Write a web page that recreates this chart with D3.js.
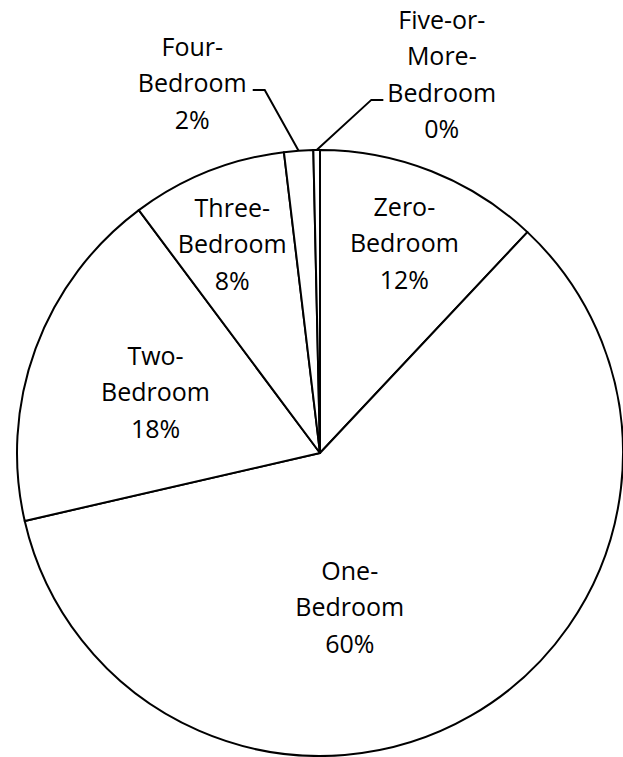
<!DOCTYPE html>
<html>
<head>
<meta charset="utf-8">
<script src="https://cdn.jsdelivr.net/npm/d3@7"></script>
<style>
  body { margin: 0; background: #fff; }
  text { font-family: "Open Sans", sans-serif; font-size: 25px; fill: #000; }
</style>
</head>
<body>
<div id="chart"></div>
<script>
// share of units by bedroom count
var categories = ["Zero-Bedroom", "One-Bedroom", "Two-Bedroom", "Three-Bedroom", "Four-Bedroom", "Five-or-More-Bedroom"];
var shares = [12.0, 59.4, 18.4, 8.3, 1.55, 0.35];
var pctLabels = ["12%", "60%", "18%", "8%", "2%", "0%"];

var svgWidth = 623;
var svgHeight = 757;
var cx = 320, cy = 453, radius = 303;

// where each label sits: angle (deg, clockwise from top) and distance as fraction of radius
var labelPlace = [
    [21.8, 0.75],
    [169, 0.515],
    [290.6, 0.58],
    [337.3, 0.75],
    [341, 1.295],
    [17.8, 1.315]
];
var outside = [false, false, false, false, true, true];

var svg = d3.select("#chart")
    .append("svg")
        .attr("width", svgWidth)
        .attr("height", svgHeight);

var g = svg.append("g")
    .attr("transform", `translate(${cx}, ${cy})`);

var pie = d3.pie().sort(null).value(function (d) { return d; });
var arcs = pie(shares);

var arc = d3.arc().innerRadius(0).outerRadius(radius);

g.selectAll("path.slice")
    .data(arcs)
    .enter()
    .append("path")
        .attr("class", "slice")
        .attr("d", arc)
        .attr("fill", "#fff")
        .attr("stroke", "#000")
        .attr("stroke-width", 2)
        .attr("stroke-linejoin", "round");

function wrap(name) {
    var parts = name.match(/[^-]+-?/g);
    var lines = [];
    parts.forEach(function (p) {
        if (lines.length && p.length <= 3) lines[lines.length - 1] += p;
        else lines.push(p);
    });
    return lines;
}

var lineH = 36.5;

arcs.forEach(function (a, i) {
    var ang = labelPlace[i][0] * Math.PI / 180;
    var dist = labelPlace[i][1] * radius;
    var x = dist * Math.sin(ang);
    var y = -dist * Math.cos(ang);
    var lines = wrap(categories[i]).concat([pctLabels[i]]);
    var top = y - (lines.length - 1) * lineH / 2;

    var t = g.append("text")
        .attr("text-anchor", "middle")
        .attr("dominant-baseline", "central");
    lines.forEach(function (l, j) {
        t.append("tspan")
            .attr("x", x)
            .attr("y", top + j * lineH)
            .text(l);
    });

    if (outside[i]) {
        // leader from slice edge to the "Bedroom" line
        var k = lines.indexOf("Bedroom");
        var bb = t.selectAll("tspan").nodes()[k].getBBox();
        var mid = (a.startAngle + a.endAngle) / 2;
        var p0 = [radius * Math.sin(mid), -radius * Math.cos(mid)];
        var ly = top + k * lineH + 8;
        var right = x < 0;
        var endX = right ? bb.x + bb.width + 6 : bb.x - 4;
        var elbowX = right ? endX + 12 : endX - 12;
        g.append("path")
            .attr("d", d3.line()([p0, [elbowX, ly], [endX, ly]]))
            .attr("fill", "none")
            .attr("stroke", "#000")
            .attr("stroke-width", 2);
    }
});
</script>
</body>
</html>
